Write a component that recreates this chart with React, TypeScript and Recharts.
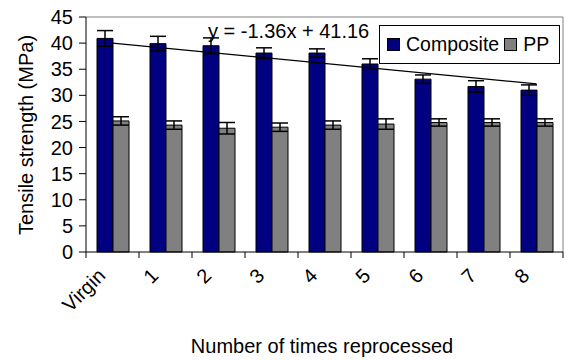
import React from "react";
import {
  ComposedChart,
  Bar,
  Line,
  XAxis,
  YAxis,
  CartesianGrid,
  ErrorBar,
  Legend,
  Customized,
} from "recharts";

const categories = ["Virgin", "1", "2", "3", "4", "5", "6", "7", "8"];
const composite = [40.9, 39.9, 39.5, 38.1, 38.1, 36.0, 33.1, 31.7, 31.0];
const compositeErr = [1.5, 1.4, 1.5, 1.0, 0.8, 1.0, 0.8, 1.1, 1.0];
const pp = [25.1, 24.3, 23.7, 23.9, 24.3, 24.5, 24.8, 24.8, 24.8];
const ppErr = [0.8, 0.8, 1.1, 0.8, 0.8, 1.0, 0.7, 0.7, 0.7];
// trendline end points as drawn
const trend = [40.0, null, null, null, null, null, null, null, 32.2];
const yTicks = [0, 5, 10, 15, 20, 25, 30, 35, 40, 45];

const data = categories.map((name, i) => ({
  name,
  composite: composite[i],
  compositeErr: compositeErr[i],
  pp: pp[i],
  ppErr: ppErr[i],
  trend: trend[i],
}));

const FONT = "'Liberation Sans', Arial, sans-serif";

function XTick(props: any) {
  const { x, y, payload, index, width, visibleTicksCount } = props;
  const half = width && visibleTicksCount ? width / visibleTicksCount / 2 : 26.5;
  const last = index === visibleTicksCount - 1;
  const tx = x - 6;
  const ty = y + 25;
  return (
    <g>
      <line x1={x - half} x2={x - half} y1={y} y2={y + 6} stroke="#000" />
      {last && <line x1={x + half} x2={x + half} y1={y} y2={y + 6} stroke="#000" />}
      <text
        x={tx}
        y={ty}
        transform={`rotate(-45, ${tx}, ${ty})`}
        textAnchor="end"
        fontSize={20}
        fontFamily={FONT}
        fill="#000"
      >
        {payload.value}
      </text>
    </g>
  );
}

function LegendBox() {
  const item = (color: string, label: string) => (
    <span style={{ display: "inline-flex", alignItems: "center", marginRight: 5 }}>
      <span
        style={{
          display: "inline-block",
          width: 11,
          height: 11,
          background: color,
          border: "1px solid #000",
          marginRight: 6,
        }}
      />
      {label}
    </span>
  );
  return (
    <div
      style={{
        border: "1px solid #000",
        background: "#fff",
        fontFamily: FONT,
        fontSize: 19.5,
        lineHeight: "37px",
        height: 39,
        padding: "0 0 0 7px",
        whiteSpace: "nowrap",
        boxSizing: "border-box",
        width: 181,
      }}
    >
      {item("#000080", "Composite")}
      {item("#808080", "PP")}
    </div>
  );
}

export default function App() {
  return (
    <div style={{ position: "absolute", left: 0, top: 0, background: "#fff" }}>
      <ComposedChart
        width={569}
        height={360}
        data={data}
        margin={{ top: 17, right: 6, bottom: 0, left: 0 }}
        barCategoryGap={11}
        barGap={0}
      >
        <CartesianGrid
          stroke="#808080"
          horizontalCoordinatesGenerator={({ offset }: any) => [offset.top]}
          verticalCoordinatesGenerator={({ offset }: any) => [offset.left + offset.width]}
        />
        <XAxis
          dataKey="name"
          height={108}
          tickLine={false}
          tickSize={0}
          tickMargin={0}
          axisLine={{ stroke: "#000" }}
          tick={<XTick />}
          interval={0}
          label={{
            content: () => (
              <text x={322} y={353} textAnchor="middle" fontSize={20} fontFamily={FONT} fill="#000">
                Number of times reprocessed
              </text>
            ),
          }}
        />
        <YAxis
          width={86}
          domain={[0, 45]}
          ticks={yTicks}
          interval={0}
          tickSize={7}
          tickMargin={6}
          axisLine={{ stroke: "#000" }}
          tickLine={{ stroke: "#000" }}
          tick={{ fill: "#000", fontSize: 20, fontFamily: FONT }}
          label={{
            content: () => (
              <text
                x={33}
                y={135}
                transform="rotate(-90, 33, 135)"
                textAnchor="middle"
                fontSize={20}
                fontFamily={FONT}
                fill="#000"
              >
                Tensile strength (MPa)
              </text>
            ),
          }}
        />
        <Bar dataKey="composite" name="Composite" fill="#000080" stroke="#000" isAnimationActive={false}>
          <ErrorBar dataKey="compositeErr" width={8} stroke="#000" strokeWidth={1.5} />
        </Bar>
        <Bar dataKey="pp" name="PP" fill="#808080" stroke="#000" isAnimationActive={false}>
          <ErrorBar dataKey="ppErr" width={8} stroke="#000" strokeWidth={1.5} />
        </Bar>
        <Line
          dataKey="trend"
          type="linear"
          stroke="#000"
          strokeWidth={1.2}
          dot={false}
          connectNulls
          legendType="none"
          isAnimationActive={false}
        />
        <Legend
          layout="vertical"
          align="center"
          verticalAlign="middle"
          content={<LegendBox />}
          wrapperStyle={{ left: 379, top: 25, width: 181 }}
        />
        <Customized
          component={() => (
            <text x={208} y={38} fontSize={20} fontFamily={FONT} fill="#000">
              y = -1.36x + 41.16
            </text>
          )}
        />
      </ComposedChart>
    </div>
  );
}
